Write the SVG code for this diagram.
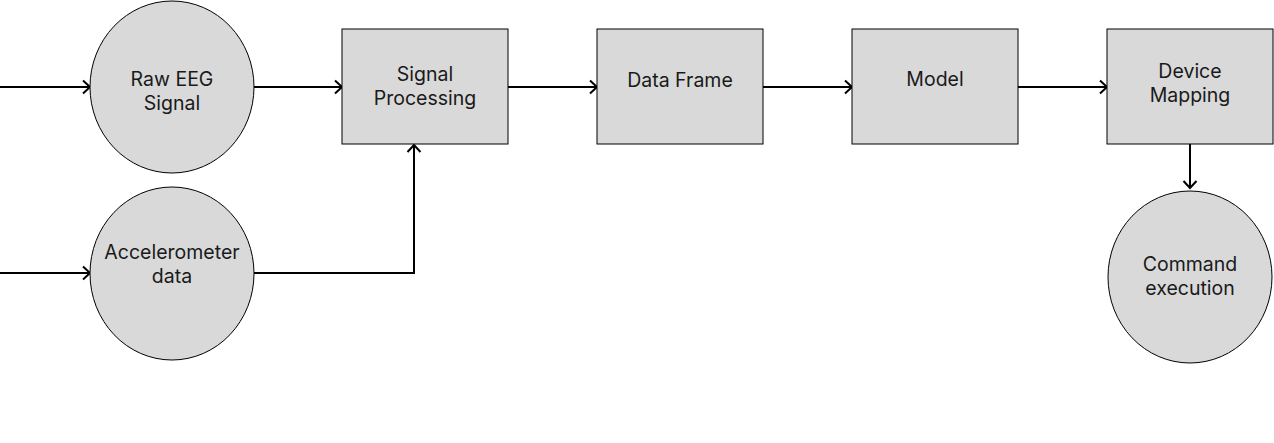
<svg xmlns="http://www.w3.org/2000/svg" width="1274" height="443" viewBox="0 0 1274 443">
<style>
.n{fill:#d9d9d9;stroke:#000;stroke-width:1}
.t{font-family:Inter,"Liberation Sans",sans-serif;font-size:19.5px;fill:#1a1a1a;text-anchor:middle}
.c{fill:none;stroke:#000;stroke-width:2}
</style>
<defs>
<marker id="a" markerUnits="userSpaceOnUse" markerWidth="14" markerHeight="16" viewBox="0 0 14 16" refX="12" refY="8" orient="auto">
<path d="M5,1.5 L12,8 L5,14.5" fill="none" stroke="#000" stroke-width="2"/>
</marker>
</defs>
<rect width="1274" height="443" fill="#fff"/>
<g id="connectors">
<path class="c" d="M0,87 H90" marker-end="url(#a)"/>
<path class="c" d="M0,273 H90" marker-end="url(#a)"/>
<path class="c" d="M254,87 H342" marker-end="url(#a)"/>
<path class="c" d="M254,273 H414 V145" marker-end="url(#a)"/>
<path class="c" d="M508,87 H597" marker-end="url(#a)"/>
<path class="c" d="M763,87 H852" marker-end="url(#a)"/>
<path class="c" d="M1018,87 H1107" marker-end="url(#a)"/>
<path class="c" d="M1190,144 V188" marker-end="url(#a)"/>
</g>
<g id="raw-eeg">
<ellipse class="n" cx="172" cy="87" rx="82" ry="86"/>
<text class="t" x="172" y="86">Raw EEG</text>
<text class="t" x="172" y="110">Signal</text>
</g>
<g id="accelerometer">
<ellipse class="n" cx="172" cy="273.5" rx="82" ry="86.5"/>
<text class="t" x="172" y="259">Accelerometer</text>
<text class="t" x="172" y="283">data</text>
</g>
<g id="signal-processing">
<rect class="n" x="342" y="29" width="166" height="115"/>
<text class="t" x="425" y="81">Signal</text>
<text class="t" x="425" y="105">Processing</text>
</g>
<g id="data-frame">
<rect class="n" x="597" y="29" width="166" height="115"/>
<text class="t" x="680" y="87">Data Frame</text>
</g>
<g id="model">
<rect class="n" x="852" y="29" width="166" height="115"/>
<text class="t" x="935" y="86">Model</text>
</g>
<g id="device-mapping">
<rect class="n" x="1107" y="29" width="166" height="115"/>
<text class="t" x="1190" y="78">Device</text>
<text class="t" x="1190" y="102">Mapping</text>
</g>
<g id="command-execution">
<ellipse class="n" cx="1190" cy="277" rx="82" ry="86"/>
<text class="t" x="1190" y="271">Command</text>
<text class="t" x="1190" y="295">execution</text>
</g>
</svg>
